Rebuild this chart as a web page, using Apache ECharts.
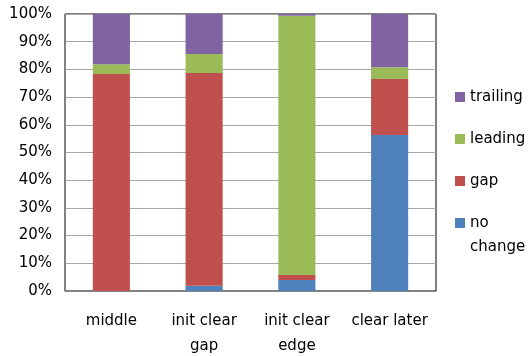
<!DOCTYPE html>
<html>
<head>
<meta charset="utf-8">
<script src="https://cdn.jsdelivr.net/npm/echarts@6/dist/echarts.min.js"></script>
<style>
html,body{margin:0;padding:0;background:#fff;}
#c{width:531px;height:356px;}
</style>
</head>
<body>
<div id="c"></div>
<script>
const categories = ['middle', 'init clear\ngap', 'init clear\nedge', 'clear later'];
const noChange = [0, 1.9, 4.0, 56.3];
const gap = [78.3, 76.8, 1.8, 20.2];
const leading = [3.6, 6.9, 93.6, 4.3];
const trailing = [18.1, 14.4, 0.6, 19.2];
const yTicks = [0, 10, 20, 30, 40, 50, 60, 70, 80, 90, 100];

const FONT = 'DejaVu Sans';
const chart = echarts.init(document.getElementById('c'));

function bar(name, data, color) {
  return {
    name: name, type: 'bar', stack: 'total', data: data,
    barWidth: '40%', itemStyle: { color: color }
  };
}

chart.setOption({
  animation: false,
  backgroundColor: '#fff',
  grid: { left: 65, right: 95, top: 14, bottom: 65, outerBoundsMode: 'none', containLabel: false, show: true, borderColor: '#000', borderWidth: 1, backgroundColor: 'transparent' },
  xAxis: {
    type: 'category', data: categories,
    axisLine: { lineStyle: { color: '#868686', width: 1 } },
    axisTick: { show: false },
    axisLabel: { color: '#000', fontFamily: FONT, fontSize: 15, lineHeight: 25, margin: 18, interval: 0 }
  },
  yAxis: {
    type: 'value', min: yTicks[0], max: yTicks[yTicks.length - 1], interval: 10,
    axisLine: { show: true, lineStyle: { color: '#868686', width: 1 } },
    axisTick: { show: false },
    splitLine: { lineStyle: { color: '#a6a6a6', width: 1 } },
    axisLabel: { color: '#000', fontFamily: FONT, fontSize: 15, margin: 13, formatter: v => v + '%' }
  },
  legend: {
    orient: 'vertical', left: 455, top: 89, padding: 0,
    itemWidth: 10, itemHeight: 10, itemGap: 26,
    icon: 'rect',
    data: ['trailing', 'leading', 'gap', 'no change'],
    formatter: n => n === 'no change' ? 'no' : n,
    textStyle: { color: '#000', fontFamily: FONT, fontSize: 15, lineHeight: 16 }
  },
  graphic: [{
    type: 'text', left: 470, top: 240,
    style: { text: 'change', fill: '#000', font: '15px "DejaVu Sans"' }
  }],
  series: [
    bar('no change', noChange, '#4F81BD'),
    bar('gap', gap, '#C0504D'),
    bar('leading', leading, '#9BBB59'),
    bar('trailing', trailing, '#8064A2')
  ]
});
</script>
</body>
</html>
